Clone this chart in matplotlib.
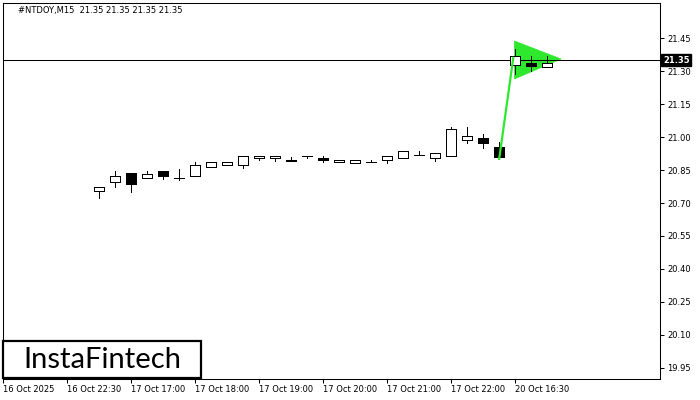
import matplotlib
matplotlib.use('Agg')
import matplotlib.pyplot as plt
from matplotlib.patches import Rectangle, Polygon

# ---------------- data ----------------
title_text = "#NTDOY,M15  21.35 21.35 21.35 21.35"
bar_index = list(range(6, 35))
opens  = [20.755, 20.796, 20.837, 20.812, 20.846, 20.812, 20.822, 20.863, 20.872, 20.873,
          20.904, 20.905, 20.891, 20.914, 20.905, 20.887, 20.884, 20.885, 20.896, 20.905,
          20.917, 20.904, 20.913, 20.986, 20.996, 20.956, 21.327, 21.336, 21.318]
highs  = [20.773, 20.846, 20.837, 20.846, 20.846, 20.855, 20.885, 20.885, 20.885, 20.913,
          20.913, 20.914, 20.911, 20.914, 20.914, 20.897, 20.894, 20.897, 20.914, 20.935,
          20.937, 20.926, 21.047, 21.047, 21.014, 20.978, 21.401, 21.369, 21.369]
lows   = [20.721, 20.772, 20.751, 20.812, 20.811, 20.805, 20.822, 20.863, 20.872, 20.861,
          20.894, 20.891, 20.891, 20.904, 20.885, 20.887, 20.884, 20.885, 20.884, 20.905,
          20.917, 20.893, 20.913, 20.975, 20.952, 20.911, 21.287, 21.301, 21.318]
closes = [20.773, 20.823, 20.785, 20.832, 20.823, 20.813, 20.873, 20.885, 20.885, 20.913,
          20.913, 20.914, 20.897, 20.914, 20.894, 20.897, 20.894, 20.885, 20.914, 20.935,
          20.917, 20.926, 21.036, 21.006, 20.975, 20.911, 21.368, 21.325, 21.336]

y_ticks = [19.95, 20.10, 20.25, 20.40, 20.55, 20.70, 20.85, 21.00, 21.15, 21.30, 21.45]
x_tick_pos = [0, 4, 8, 12, 16, 20, 24, 28, 32]
x_tick_labels = ["16 Oct 2025", "16 Oct 22:30", "17 Oct 17:00", "17 Oct 18:00",
                 "17 Oct 19:00", "17 Oct 20:00", "17 Oct 21:00", "17 Oct 22:00",
                 "20 Oct 16:30"]
current_price = 21.35

pole_x = [31.0, 31.9]
pole_y = [20.896, 21.366]
flag_x = [31.96, 31.96, 34.875]
flag_y = [21.438, 21.265, 21.356]

logo_text = "InstaFintech"

# ---------------- figure ----------------
W, H = 700, 400
fig = plt.figure(figsize=(W / 100, H / 100), dpi=100)
fig.patch.set_facecolor('white')
ax = fig.add_axes([3 / W, (H - 379) / H, (660 - 3) / W, (379 - 3) / H])
ax.set_facecolor('white')
ax.set_xlim(0, 41.06)
ax.set_ylim(19.8985, 21.611)

green = '#2ee82e'
LW = 0.75
CLW = 0.68
# flag triangle
ax.add_patch(Polygon(list(zip(flag_x, flag_y)), closed=True, facecolor=green,
                     edgecolor=green, lw=0.5, zorder=1))

# current price line
ax.axhline(current_price, color='black', lw=LW, zorder=1.5)

bw = 0.6
for i, o, h, l, c in zip(bar_index, opens, highs, lows, closes):
    ax.plot([i, i], [l, h], color='black', lw=CLW, zorder=2, solid_capstyle='butt',
            antialiased=False)
    lo, hi = min(o, c), max(o, c)
    if hi - lo < 0.003:
        ax.plot([i - bw / 2, i + bw / 2], [o, o], color='black', lw=CLW, zorder=3,
                antialiased=False, solid_capstyle='butt')
    else:
        fc = 'white' if c >= o else 'black'
        ax.add_patch(Rectangle((i - bw / 2, lo), bw, hi - lo, facecolor=fc,
                               edgecolor='black', lw=CLW, zorder=3, antialiased=False,
                               joinstyle='miter'))

# flag pole
ax.plot(pole_x, pole_y, color=green, lw=1.6, zorder=4, solid_capstyle='butt')

# axes styling
for s in ax.spines.values():
    s.set_color('black')
    s.set_linewidth(LW)
ax.yaxis.tick_right()
ax.set_yticks(y_ticks)
ax.set_yticklabels([f"{v:.2f}" for v in y_ticks])
ax.tick_params(axis='y', direction='out', length=3, width=LW, pad=2,
               labelsize=6, colors='black')
ax.set_xticks(x_tick_pos)
ax.set_xticklabels(x_tick_labels)
ax.tick_params(axis='x', direction='out', length=3, width=LW, pad=1.5,
               labelsize=6, colors='black')
for lab in ax.get_xticklabels():
    lab.set_ha('left')

# current price label
ax.annotate(f"{current_price:.2f}", xy=(1.0, current_price),
            xycoords=('axes fraction', 'data'), xytext=(2.2, 0),
            textcoords='offset points', ha='left', va='center', fontsize=6,
            color='white', fontweight='bold',
            bbox=dict(boxstyle='square,pad=0.2', fc='black', ec='black'), zorder=10,
            annotation_clip=False)

# title
fig.text(18 / W, 1 - 11 / H, title_text, fontsize=6, ha='left', va='center', color='black')

# logo
fig.patches.append(Rectangle((3 / W, (H - 378) / H), 198 / W, 37 / H,
                             transform=fig.transFigure, facecolor='white',
                             edgecolor='black', lw=1.6, zorder=20))
fig.text(102 / W, 1 - 360 / H, logo_text, fontsize=21, family=['Lato', 'DejaVu Sans'],
         ha='center', va='center', color='black', zorder=21)

fig.savefig('out.png', dpi=100)
